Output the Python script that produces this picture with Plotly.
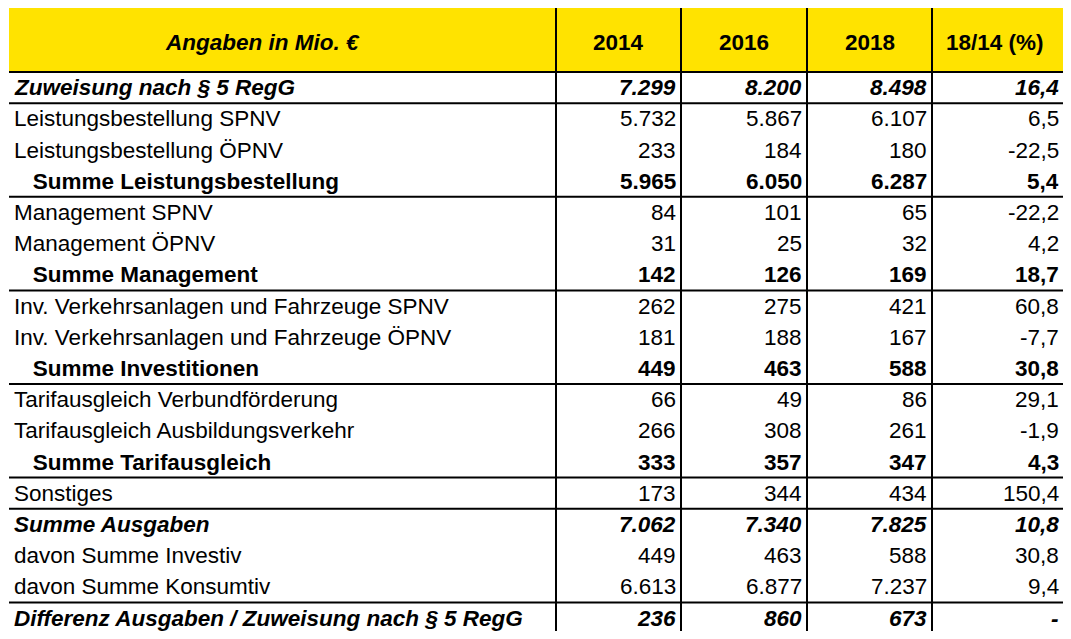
import plotly.graph_objects as go

# ---- data ----
labels = [
    "Zuweisung nach § 5 RegG",
    "Leistungsbestellung SPNV",
    "Leistungsbestellung ÖPNV",
    "Summe Leistungsbestellung",
    "Management SPNV",
    "Management ÖPNV",
    "Summe Management",
    "Inv. Verkehrsanlagen und Fahrzeuge SPNV",
    "Inv. Verkehrsanlagen und Fahrzeuge ÖPNV",
    "Summe Investitionen",
    "Tarifausgleich Verbundförderung",
    "Tarifausgleich Ausbildungsverkehr",
    "Summe Tarifausgleich",
    "Sonstiges",
    "Summe Ausgaben",
    "davon Summe Investiv",
    "davon Summe Konsumtiv",
    "Differenz Ausgaben / Zuweisung nach § 5 RegG",
]
v2014 = [7299, 5732, 233, 5965, 84, 31, 142, 262, 181, 449, 66, 266, 333, 173, 7062, 449, 6613, 236]
v2016 = [8200, 5867, 184, 6050, 101, 25, 126, 275, 188, 463, 49, 308, 357, 344, 7340, 463, 6877, 860]
v2018 = [8498, 6107, 180, 6287, 65, 32, 169, 421, 167, 588, 86, 261, 347, 434, 7825, 588, 7237, 673]
pct = [16.4, 6.5, -22.5, 5.4, -22.2, 4.2, 18.7, 60.8, -7.7, 30.8, 29.1, -1.9, 4.3, 150.4, 10.8, 30.8, 9.4, None]
styles = ["bi", "", "", "b", "", "", "b", "", "", "b", "", "", "b", "", "bi", "", "", "bi"]
indent = [False, False, False, True, False, False, True, False, False, True, False, False, True,
          False, False, False, False, False]
header = ["Angaben in Mio. €", "2014", "2016", "2018", "18/14 (%)"]
separators_after = [1, 4, 7, 10, 13, 14, 17]

# ---- layout constants (page pixel coordinates; body has 8px margin) ----
PAGE_W, PAGE_H = 1071, 639
OFF = 8
W, H = PAGE_W - 2 * OFF, PAGE_H - 2 * OFF
col_edges = [9, 556, 681, 807, 932, 1064]
head_top, head_bot = 8, 72
row_h = 31.2
font_fam = "Liberation Sans, Arial, sans-serif"
fs = 22.5
yellow = "#FFE300"


def fmt_int(v):
    return f"{v:,}".replace(",", ".")


def fmt_pct(v):
    if v is None:
        return "-"
    return f"{v:.1f}".replace(".", ",")


def style(txt, st):
    if "b" in st:
        txt = f"<b>{txt}</b>"
    if "i" in st:
        txt = f"<i>{txt}</i>"
    return txt


def row_center(i):
    return head_bot + (i + 0.5) * row_h


def row_bottom(i):
    return head_bot + (i + 1) * row_h


n = len(labels)
table_bottom = row_bottom(n - 1)

fig = go.Figure()
shapes = []
annotations = []

# header background
shapes.append(dict(type="rect", xref="x", yref="y", x0=col_edges[0], x1=col_edges[-1],
                   y0=head_top, y1=head_bot, fillcolor=yellow, line=dict(width=0), layer="below"))

# header texts
head_x = [262, None, None, None, 995]
for j, h in enumerate(header):
    cx = head_x[j] if head_x[j] is not None else (col_edges[j] + col_edges[j + 1]) / 2
    st = "bi" if j == 0 else "b"
    annotations.append(dict(x=cx, y=(head_top + head_bot) / 2 + 2, xref="x", yref="y",
                            text=style(h, st), showarrow=False, xanchor="center", yanchor="middle",
                            font=dict(family=font_fam, size=fs, color="black")))

# body texts
cols = [[fmt_int(v) for v in v2014], [fmt_int(v) for v in v2016],
        [fmt_int(v) for v in v2018], [fmt_pct(v) for v in pct]]
for i, lab in enumerate(labels):
    yc = row_center(i)
    txt = ("\u00a0" * 3 + lab) if indent[i] else lab
    annotations.append(dict(x=col_edges[0] + 3, y=yc, xref="x", yref="y", text=style(txt, styles[i]),
                            showarrow=False, xanchor="left", yanchor="middle",
                            font=dict(family=font_fam, size=fs, color="black")))
    for j, c in enumerate(cols):
        annotations.append(dict(x=col_edges[j + 2] - 3, y=yc, xref="x", yref="y",
                                text=style(c[i], styles[i]),
                                showarrow=False, xanchor="right", yanchor="middle",
                                font=dict(family=font_fam, size=fs, color="black")))

# horizontal lines
line_ys = [head_bot] + [row_bottom(k - 1) for k in separators_after]
for yv in line_ys:
    shapes.append(dict(type="line", xref="x", yref="y", x0=col_edges[0], x1=col_edges[-1],
                       y0=yv, y1=yv, line=dict(color="black", width=2)))

# vertical lines
for xv in col_edges[1:-1]:
    shapes.append(dict(type="line", xref="x", yref="y", x0=xv, x1=xv,
                       y0=head_top, y1=table_bottom, line=dict(color="black", width=2)))

fig.update_layout(
    width=W, height=H,
    margin=dict(l=0, r=0, t=0, b=0),
    paper_bgcolor="white", plot_bgcolor="white",
    xaxis=dict(range=[OFF, OFF + W], visible=False, fixedrange=True),
    yaxis=dict(range=[OFF + H, OFF], visible=False, fixedrange=True),
    shapes=shapes, annotations=annotations,
    showlegend=False,
)

fig.write_html("out.html")
